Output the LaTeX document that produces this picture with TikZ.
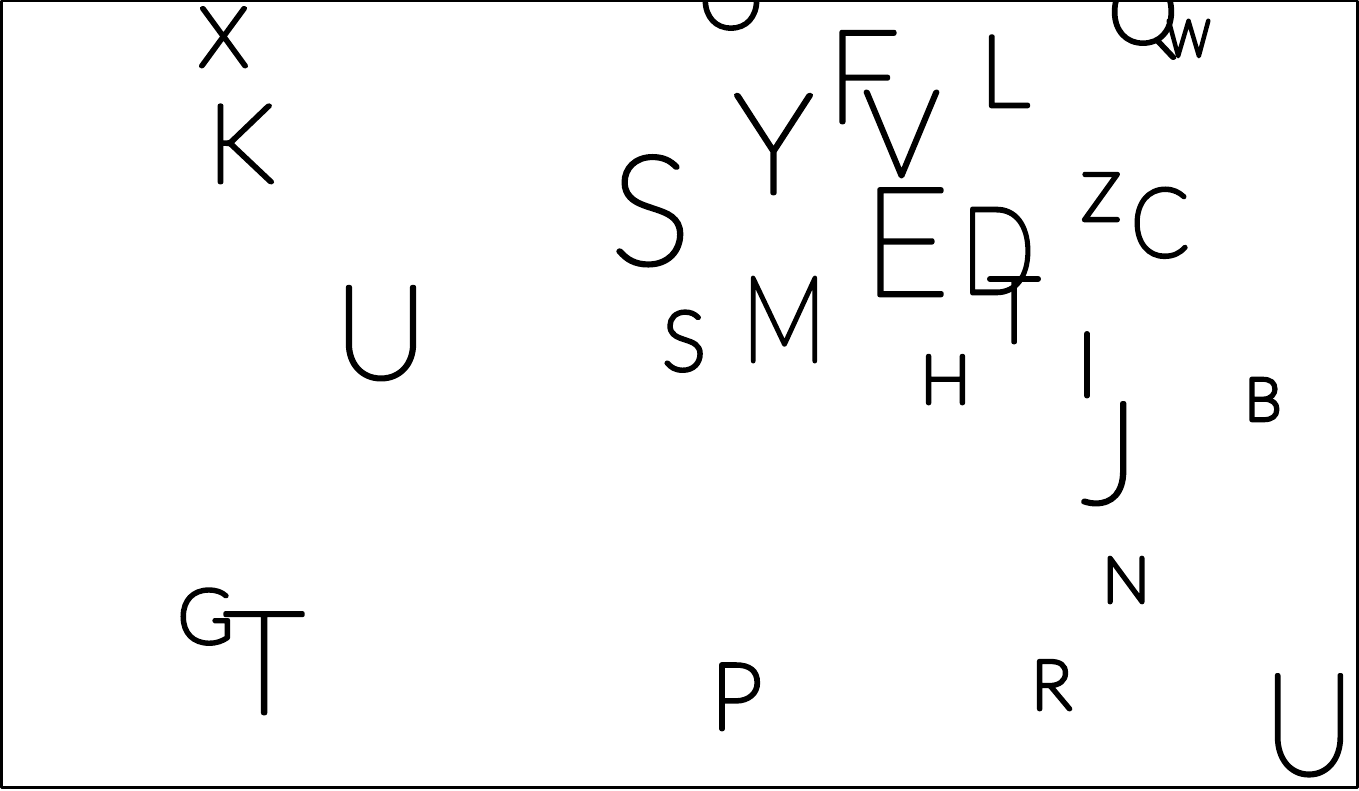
\documentclass[tikz,border=0pt]{standalone}
\usepackage{fontspec}
\IfFontExistsTF{Lato Hairline}{%
  \newfontfamily\hairfont{Lato Hairline}\def\caphgt{0.7165}}{%
\IfFontExistsTF{Lato-Hairline.ttf}{%
  \newfontfamily\hairfont{Lato-Hairline.ttf}\def\caphgt{0.7165}}{%
\IfFontExistsTF{Poppins Thin}{%
  \newfontfamily\hairfont{Poppins Thin}\def\caphgt{0.70}}{%
\IfFontExistsTF{DejaVu Sans ExtraLight}{%
  \newfontfamily\hairfont{DejaVu Sans ExtraLight}\def\caphgt{0.729}}{%
  \newfontfamily\hairfont{Liberation Sans}\def\caphgt{0.716}}}}}
\newcommand\ltrsize[1]{%
  \pgfmathsetmacro\ltrfs{(#1-4)/\caphgt}%
  \pgfmathsetmacro\ltrfb{460/\ltrfs}%
  \fontsize{\ltrfs bp}{\ltrfs bp}\selectfont
  \edef\ltrtmp{\noexpand\addfontfeatures{FakeBold=\ltrfb}}\ltrtmp}
\tikzset{ltr/.style={inner sep=0pt, outer sep=0pt, anchor=base, font=\hairfont},
  narrow/.style={xscale=#1, transform shape}}
\begin{document}
\begin{tikzpicture}[x=1bp,y=-1bp,line join=round,line cap=round]
\useasboundingbox (0,0) rectangle (1359,790);
\draw[line width=2.5bp] (1.25,1.25) rectangle (1357.5,787.5);
\clip (2.5,2.5) rectangle (1356,786);
\node[ltr] (x)  at (223.5,66) {\ltrsize{63}X};
\node[ltr] (k)  at (240.5,182) {\ltrsize{82}K};
\node[ltr] (u1) at (381,378) {\ltrsize{97}U};
\node[ltr] (o)  at (731,28) {\ltrsize{62}O};
\node[ltr] (q)  at (1143,43) {\ltrsize{68}Q};
\node[ltr,narrow=0.85] (w)  at (1188.5,56) {\ltrsize{40}W};
\node[ltr] (f)  at (863,122) {\ltrsize{96}F};
\node[ltr] (l)  at (1004.5,106) {\ltrsize{75}L};
\node[ltr] (y)  at (773.5,193) {\ltrsize{104}Y};
\node[ltr] (v)  at (901.5,176) {\ltrsize{90}V};
\node[ltr] (s1) at (650.5,264) {\ltrsize{113}S};
\node[ltr] (e)  at (906,295) {\ltrsize{112}E};
\node[ltr,narrow=0.82] (d)  at (998,293) {\ltrsize{90}D};
\node[ltr] (t1) at (1014,342) {\ltrsize{69}T};
\node[ltr] (z)  at (1101,220) {\ltrsize{51}Z};
\node[ltr,narrow=0.9] (c)  at (1160,256) {\ltrsize{72}C};
\node[ltr,narrow=0.8] (m)  at (784,361) {\ltrsize{89}M};
\node[ltr] (s2) at (684,370) {\ltrsize{63}S};
\node[ltr] (h)  at (945.5,403) {\ltrsize{52}H};
\node[ltr] (i)  at (1087,396) {\ltrsize{68}I};
\node[ltr] (j)  at (1110.5,503) {\ltrsize{106}J};
\node[ltr] (b)  at (1263,420) {\ltrsize{46}B};
\node[ltr] (n)  at (1126,602) {\ltrsize{49}N};
\node[ltr] (g)  at (205.5,643) {\ltrsize{58}G};
\node[ltr] (t2) at (264,713) {\ltrsize{106}T};
\node[ltr] (p)  at (736.5,729) {\ltrsize{70}P};
\node[ltr] (r)  at (1051.5,709) {\ltrsize{53}R};
\node[ltr,narrow=0.9] (u2) at (1309,774) {\ltrsize{105}U};
\end{tikzpicture}
\end{document}
